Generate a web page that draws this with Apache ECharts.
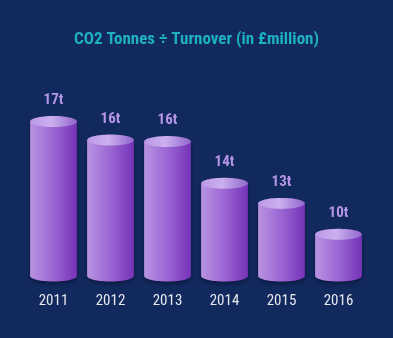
<!DOCTYPE html>
<html>
<head>
<meta charset="utf-8">
<script src="https://cdn.jsdelivr.net/npm/echarts@6/dist/echarts.min.js"></script>
<style>
html,body{margin:0;padding:0;background:#12295e;}
#c{width:393px;height:338px;}
</style>
</head>
<body>
<div id="c"></div>
<script>
const titleText = 'CO2 Tonnes ÷ Turnover (in £million)';
const categories = ['2011', '2012', '2013', '2014', '2015', '2016'];
const values = [17.0, 15.8, 15.7, 13.0, 11.7, 9.7];
const valueLabels = ['17t', '16t', '16t', '14t', '13t', '10t'];

const FONT = "'Liberation Sans Narrow', 'Roboto Condensed', 'DejaVu Sans Condensed', Roboto, sans-serif";
const Y_MIN = 7, Y_MAX = 17;

function ellipsePts(cx, cy, rx, ry, a0, a1, n) {
  const pts = [];
  for (let i = 0; i <= n; i++) {
    const a = a0 + (a1 - a0) * i / n;
    pts.push([cx + rx * Math.cos(a), cy + ry * Math.sin(a)]);
  }
  return pts;
}

const chart = echarts.init(document.getElementById('c'));
chart.setOption({
  backgroundColor: '#12295e',
  animation: false,
  title: {
    text: titleText,
    left: 'center',
    top: 26,
    textStyle: { color: '#1fb0bf', fontSize: 17, fontWeight: 'bold', fontFamily: FONT }
  },
  grid: { left: 25, right: 26, top: 121.5, bottom: 62 },
  xAxis: {
    type: 'category',
    data: categories,
    axisLine: { show: false },
    axisTick: { show: false },
    axisLabel: { color: '#e8e8f0', fontSize: 15, fontFamily: FONT, margin: 18 }
  },
  yAxis: {
    type: 'value',
    min: Y_MIN,
    max: Y_MAX,
    show: false,
    splitLine: { show: false }
  },
  series: [{
    type: 'custom',
    data: values.map((v, i) => [i, v]),
    renderItem: function (params, api) {
      const idx = api.value(0);
      const top = api.coord([idx, api.value(1)]);
      const base = api.coord([idx, Y_MIN]);
      const w = api.size([1, 0])[0] * 0.82;
      const rx = w / 2, ry = 5.5;
      const cx = top[0];
      const bodyPts = [[cx - rx, top[1]]]
        .concat(ellipsePts(cx, base[1], rx, ry, Math.PI, 0, 40))
        .concat([[cx + rx, top[1]]]);
      const topPts = ellipsePts(cx, top[1], rx, ry, 0, Math.PI * 2, 60);
      return {
        type: 'group',
        children: [
          {
            type: 'polygon',
            shape: { points: bodyPts },
            style: {
              fill: new echarts.graphic.LinearGradient(0, 0, 1, 0, [
                { offset: 0, color: '#b893e2' },
                { offset: 0.5, color: '#9b66d4' },
                { offset: 1, color: '#7632b8' }
              ]),
              shadowBlur: 5,
              shadowOffsetY: 2,
              shadowColor: 'rgba(0,0,20,0.45)'
            }
          },
          {
            type: 'polygon',
            shape: { points: topPts },
            style: {
              fill: new echarts.graphic.LinearGradient(0, 0, 1, 0, [
                { offset: 0, color: '#bb98e6' },
                { offset: 0.45, color: '#cbb0ee' },
                { offset: 1, color: '#9166cd' }
              ])
            }
          },
          {
            type: 'text',
            x: cx,
            y: top[1] - 21,
            style: {
              text: valueLabels[params.dataIndex],
              fill: '#b596e6',
              font: 'bold 15px ' + FONT,
              align: 'center',
              verticalAlign: 'middle'
            }
          }
        ]
      };
    }
  }]
});
</script>
</body>
</html>
